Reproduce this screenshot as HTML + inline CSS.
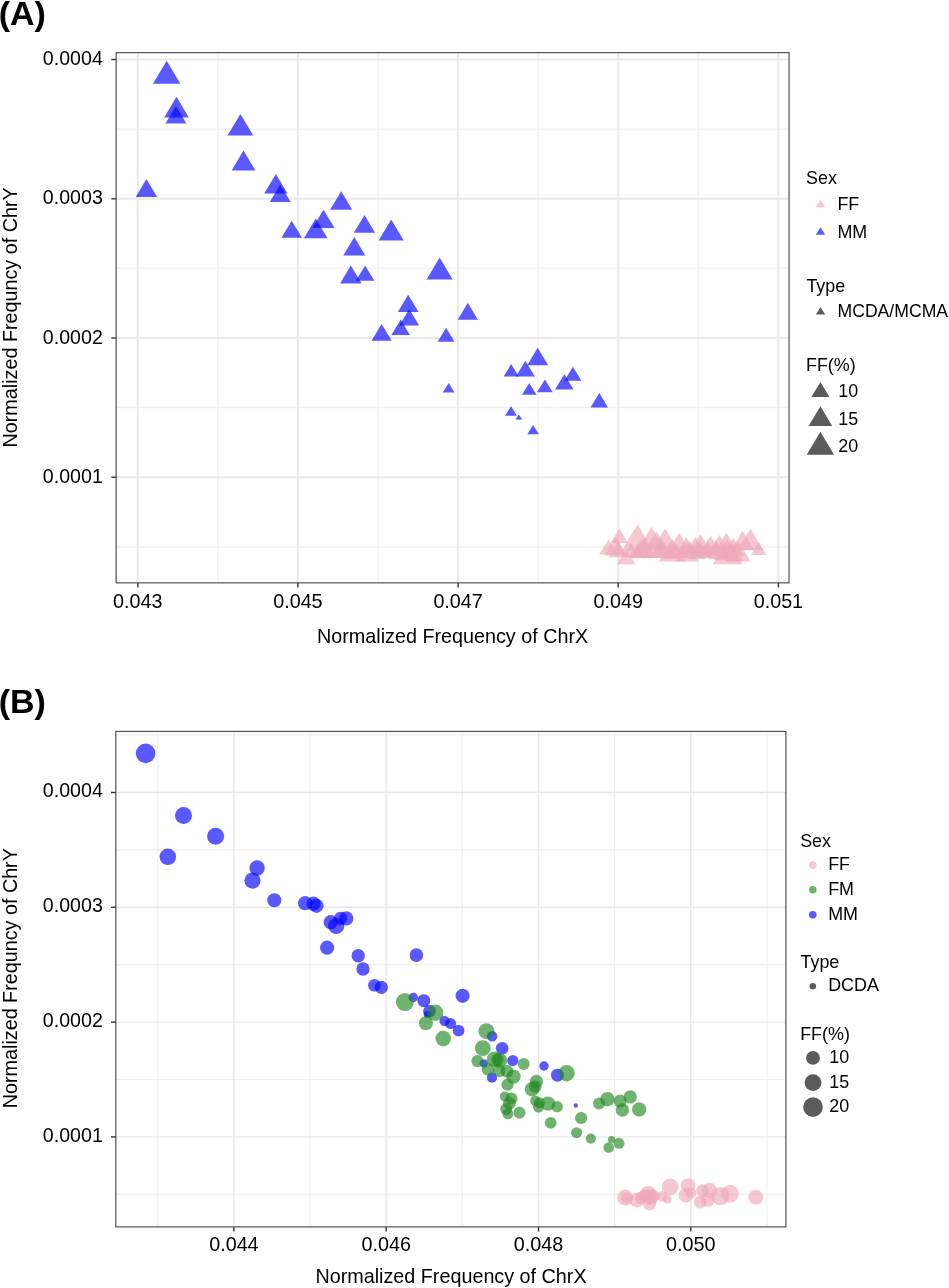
<!DOCTYPE html>
<html><head><meta charset="utf-8"><title>Figure</title>
<style>
html,body{margin:0;padding:0;background:#fff;}
body{width:949px;height:1288px;overflow:hidden;}
svg{display:block;will-change:transform;}
text{font-family:"Liberation Sans",sans-serif;fill:#000;}
.ax{font-size:19.75px;}
.tk{font-size:19.6px;}
.lg{font-size:17.9px;}
.pt{font-size:34px;font-weight:bold;}
</style></head><body>
<svg width="949" height="1288" viewBox="0 0 949 1288">
<rect width="949" height="1288" fill="#fff"/>

<g fill="none">
<path d="M217.87 52.65V582.9" stroke-width="1.5" stroke="#f2f2f2"/>
<path d="M378.01 52.65V582.9" stroke-width="1.5" stroke="#f2f2f2"/>
<path d="M538.15 52.65V582.9" stroke-width="1.5" stroke="#f2f2f2"/>
<path d="M698.29 52.65V582.9" stroke-width="1.5" stroke="#f2f2f2"/>
<path d="M116.15 129.15H789.0" stroke-width="1.5" stroke="#f2f2f2"/>
<path d="M116.15 268.35H789.0" stroke-width="1.5" stroke="#f2f2f2"/>
<path d="M116.15 407.55H789.0" stroke-width="1.5" stroke="#f2f2f2"/>
<path d="M116.15 546.75H789.0" stroke-width="1.5" stroke="#f2f2f2"/>
<path d="M137.80 52.65V582.9" stroke-width="2.0" stroke="#e9e9e9"/>
<path d="M297.94 52.65V582.9" stroke-width="2.0" stroke="#e9e9e9"/>
<path d="M458.08 52.65V582.9" stroke-width="2.0" stroke="#e9e9e9"/>
<path d="M618.22 52.65V582.9" stroke-width="2.0" stroke="#e9e9e9"/>
<path d="M778.36 52.65V582.9" stroke-width="2.0" stroke="#e9e9e9"/>
<path d="M116.15 59.55H789.0" stroke-width="2.0" stroke="#e9e9e9"/>
<path d="M116.15 198.75H789.0" stroke-width="2.0" stroke="#e9e9e9"/>
<path d="M116.15 337.95H789.0" stroke-width="2.0" stroke="#e9e9e9"/>
<path d="M116.15 477.15H789.0" stroke-width="2.0" stroke="#e9e9e9"/>
</g>
<g>
<path d="M599.1 554.8L617.7 554.8L608.4 539.4Z" fill="#eea9b8" fill-opacity="0.65"/>
<path d="M610.7 542.9L628.1 542.9L619.4 528.5Z" fill="#eea9b8" fill-opacity="0.65"/>
<path d="M604.2 555.6L627.0 555.6L615.6 536.6Z" fill="#eea9b8" fill-opacity="0.65"/>
<path d="M608.8 557.5L628.0 557.5L618.4 541.6Z" fill="#eea9b8" fill-opacity="0.65"/>
<path d="M616.7 564.3L635.3 564.3L626.0 548.9Z" fill="#eea9b8" fill-opacity="0.65"/>
<path d="M621.8 550.8L653.2 550.8L637.5 524.3Z" fill="#eea9b8" fill-opacity="0.65"/>
<path d="M638.8 548.0L664.0 548.0L651.4 526.8Z" fill="#eea9b8" fill-opacity="0.65"/>
<path d="M645.2 550.0L667.6 550.0L656.4 531.3Z" fill="#eea9b8" fill-opacity="0.65"/>
<path d="M652.3 550.0L677.9 550.0L665.1 528.5Z" fill="#eea9b8" fill-opacity="0.65"/>
<path d="M667.6 552.0L690.6 552.0L679.1 532.7Z" fill="#eea9b8" fill-opacity="0.65"/>
<path d="M675.4 555.0L697.2 555.0L686.3 536.9Z" fill="#eea9b8" fill-opacity="0.65"/>
<path d="M684.6 555.0L706.4 555.0L695.5 536.9Z" fill="#eea9b8" fill-opacity="0.65"/>
<path d="M689.0 553.0L711.8 553.0L700.4 534.0Z" fill="#eea9b8" fill-opacity="0.65"/>
<path d="M699.4 554.0L721.6 554.0L710.5 535.5Z" fill="#eea9b8" fill-opacity="0.65"/>
<path d="M707.9 554.0L730.7 554.0L719.3 535.0Z" fill="#eea9b8" fill-opacity="0.65"/>
<path d="M714.1 553.0L738.7 553.0L726.4 532.4Z" fill="#eea9b8" fill-opacity="0.65"/>
<path d="M722.2 556.0L744.2 556.0L733.2 537.7Z" fill="#eea9b8" fill-opacity="0.65"/>
<path d="M731.0 550.0L754.0 550.0L742.5 530.8Z" fill="#eea9b8" fill-opacity="0.65"/>
<path d="M737.4 550.3L763.4 550.3L750.4 528.4Z" fill="#eea9b8" fill-opacity="0.65"/>
<path d="M751.0 555.0L766.6 555.0L758.8 542.2Z" fill="#eea9b8" fill-opacity="0.65"/>
<path d="M630.4 558.2L651.8 558.2L641.1 540.3Z" fill="#eea9b8" fill-opacity="0.65"/>
<path d="M658.7 561.4L685.5 561.4L672.1 538.9Z" fill="#eea9b8" fill-opacity="0.65"/>
<path d="M675.5 561.4L699.3 561.4L687.4 541.5Z" fill="#eea9b8" fill-opacity="0.65"/>
<path d="M689.1 558.2L710.9 558.2L700.0 540.0Z" fill="#eea9b8" fill-opacity="0.65"/>
<path d="M712.7 564.3L742.5 564.3L727.6 539.2Z" fill="#eea9b8" fill-opacity="0.65"/>
<path d="M725.6 561.4L750.4 561.4L738.0 540.6Z" fill="#eea9b8" fill-opacity="0.65"/>
<path d="M622.5 557.0L639.5 557.0L631.0 543.0Z" fill="#eea9b8" fill-opacity="0.65"/>
<path d="M628.5 558.0L645.5 558.0L637.0 544.0Z" fill="#eea9b8" fill-opacity="0.65"/>
<path d="M636.9 557.0L655.1 557.0L646.0 542.0Z" fill="#eea9b8" fill-opacity="0.65"/>
<path d="M642.9 558.0L661.1 558.0L652.0 543.0Z" fill="#eea9b8" fill-opacity="0.65"/>
<path d="M649.5 558.0L666.5 558.0L658.0 544.0Z" fill="#eea9b8" fill-opacity="0.65"/>
<path d="M654.9 557.0L673.1 557.0L664.0 542.0Z" fill="#eea9b8" fill-opacity="0.65"/>
<path d="M661.5 559.0L678.5 559.0L670.0 545.0Z" fill="#eea9b8" fill-opacity="0.65"/>
<path d="M666.9 558.0L685.1 558.0L676.0 543.0Z" fill="#eea9b8" fill-opacity="0.65"/>
<path d="M674.1 558.0L689.9 558.0L682.0 545.0Z" fill="#eea9b8" fill-opacity="0.65"/>
<path d="M683.5 558.0L700.5 558.0L692.0 544.0Z" fill="#eea9b8" fill-opacity="0.65"/>
<path d="M688.5 559.0L705.5 559.0L697.0 545.0Z" fill="#eea9b8" fill-opacity="0.65"/>
<path d="M697.1 557.0L712.9 557.0L705.0 544.0Z" fill="#eea9b8" fill-opacity="0.65"/>
<path d="M704.1 558.0L719.9 558.0L712.0 545.0Z" fill="#eea9b8" fill-opacity="0.65"/>
<path d="M708.9 559.0L727.1 559.0L718.0 544.0Z" fill="#eea9b8" fill-opacity="0.65"/>
<path d="M713.9 560.0L732.1 560.0L723.0 545.0Z" fill="#eea9b8" fill-opacity="0.65"/>
<path d="M721.5 558.0L738.5 558.0L730.0 544.0Z" fill="#eea9b8" fill-opacity="0.65"/>
<path d="M724.9 561.0L743.1 561.0L734.0 546.0Z" fill="#eea9b8" fill-opacity="0.65"/>
<path d="M633.9 553.0L652.1 553.0L643.0 538.0Z" fill="#eea9b8" fill-opacity="0.65"/>
<path d="M651.9 554.0L670.1 554.0L661.0 539.0Z" fill="#eea9b8" fill-opacity="0.65"/>
<path d="M680.9 556.0L699.1 556.0L690.0 541.0Z" fill="#eea9b8" fill-opacity="0.65"/>
<path d="M698.9 556.0L717.1 556.0L708.0 541.0Z" fill="#eea9b8" fill-opacity="0.65"/>
<path d="M706.9 555.0L725.1 555.0L716.0 540.0Z" fill="#eea9b8" fill-opacity="0.65"/>
<path d="M153.0 83.7L180.4 83.7L166.7 60.7Z" fill="#0000ff" fill-opacity="0.65"/>
<path d="M164.2 117.4L188.8 117.4L176.5 96.8Z" fill="#0000ff" fill-opacity="0.65"/>
<path d="M165.4 123.5L186.4 123.5L175.9 106.0Z" fill="#0000ff" fill-opacity="0.65"/>
<path d="M227.5 135.6L253.3 135.6L240.4 113.9Z" fill="#0000ff" fill-opacity="0.65"/>
<path d="M231.6 170.5L255.4 170.5L243.5 150.6Z" fill="#0000ff" fill-opacity="0.65"/>
<path d="M264.2 193.5L287.5 193.5L275.9 174.0Z" fill="#0000ff" fill-opacity="0.65"/>
<path d="M269.7 202.1L290.7 202.1L280.2 184.6Z" fill="#0000ff" fill-opacity="0.65"/>
<path d="M135.7 197.0L157.2 197.0L146.4 179.1Z" fill="#0000ff" fill-opacity="0.65"/>
<path d="M330.1 209.7L352.2 209.7L341.2 191.3Z" fill="#0000ff" fill-opacity="0.65"/>
<path d="M312.4 228.1L334.6 228.1L323.5 209.7Z" fill="#0000ff" fill-opacity="0.65"/>
<path d="M303.9 238.3L327.5 238.3L315.7 218.6Z" fill="#0000ff" fill-opacity="0.65"/>
<path d="M281.4 237.8L302.0 237.8L291.7 220.7Z" fill="#0000ff" fill-opacity="0.65"/>
<path d="M353.9 232.7L375.1 232.7L364.5 214.9Z" fill="#0000ff" fill-opacity="0.65"/>
<path d="M378.6 240.5L403.8 240.5L391.2 219.5Z" fill="#0000ff" fill-opacity="0.65"/>
<path d="M343.3 255.5L365.3 255.5L354.3 237.1Z" fill="#0000ff" fill-opacity="0.65"/>
<path d="M340.1 283.5L361.6 283.5L350.8 265.6Z" fill="#0000ff" fill-opacity="0.65"/>
<path d="M355.9 280.8L374.4 280.8L365.1 265.5Z" fill="#0000ff" fill-opacity="0.65"/>
<path d="M426.6 279.5L452.7 279.5L439.6 257.6Z" fill="#0000ff" fill-opacity="0.65"/>
<path d="M397.8 311.9L418.6 311.9L408.2 294.7Z" fill="#0000ff" fill-opacity="0.65"/>
<path d="M457.7 319.7L477.9 319.7L467.8 302.8Z" fill="#0000ff" fill-opacity="0.65"/>
<path d="M399.3 325.5L419.1 325.5L409.2 309.1Z" fill="#0000ff" fill-opacity="0.65"/>
<path d="M391.4 334.9L409.9 334.9L400.7 319.6Z" fill="#0000ff" fill-opacity="0.65"/>
<path d="M371.5 340.7L391.7 340.7L381.6 323.9Z" fill="#0000ff" fill-opacity="0.65"/>
<path d="M437.7 341.7L454.5 341.7L446.1 327.8Z" fill="#0000ff" fill-opacity="0.65"/>
<path d="M442.8 392.5L454.6 392.5L448.7 382.9Z" fill="#0000ff" fill-opacity="0.65"/>
<path d="M527.2 365.2L548.2 365.2L537.7 347.7Z" fill="#0000ff" fill-opacity="0.65"/>
<path d="M515.9 376.6L534.9 376.6L525.4 360.8Z" fill="#0000ff" fill-opacity="0.65"/>
<path d="M503.7 376.4L518.7 376.4L511.2 364.1Z" fill="#0000ff" fill-opacity="0.65"/>
<path d="M564.4 380.8L581.4 380.8L572.9 366.8Z" fill="#0000ff" fill-opacity="0.65"/>
<path d="M555.0 389.5L573.5 389.5L564.3 374.2Z" fill="#0000ff" fill-opacity="0.65"/>
<path d="M537.0 392.3L552.8 392.3L544.9 379.4Z" fill="#0000ff" fill-opacity="0.65"/>
<path d="M522.0 394.8L536.5 394.8L529.2 382.9Z" fill="#0000ff" fill-opacity="0.65"/>
<path d="M505.1 415.8L517.0 415.8L511.0 406.2Z" fill="#0000ff" fill-opacity="0.65"/>
<path d="M515.4 419.4L522.2 419.4L518.8 414.2Z" fill="#0000ff" fill-opacity="0.65"/>
<path d="M527.3 434.3L538.9 434.3L533.1 424.9Z" fill="#0000ff" fill-opacity="0.65"/>
<path d="M590.5 407.4L608.0 407.4L599.3 392.9Z" fill="#0000ff" fill-opacity="0.65"/>
</g>
<rect x="116.15" y="52.65" width="672.9" height="530.2" fill="none" stroke="#4a4a4a" stroke-width="1.15"/>
<g stroke="#333" stroke-width="1.4">
<path d="M137.8 582.9v4.6"/>
<path d="M297.9 582.9v4.6"/>
<path d="M458.1 582.9v4.6"/>
<path d="M618.2 582.9v4.6"/>
<path d="M778.4 582.9v4.6"/>
<path d="M116.15 59.5h-4.8"/>
<path d="M116.15 198.8h-4.8"/>
<path d="M116.15 338.0h-4.8"/>
<path d="M116.15 477.2h-4.8"/>
</g>
<text class="pt" x="-1.3" y="24.5">(A)</text>
<text class="tk" x="102.8" y="65.1" text-anchor="end">0.0004</text>
<text class="tk" x="102.8" y="204.4" text-anchor="end">0.0003</text>
<text class="tk" x="102.8" y="343.6" text-anchor="end">0.0002</text>
<text class="tk" x="102.8" y="482.8" text-anchor="end">0.0001</text>
<text class="ax" x="137.8" y="607.8" text-anchor="middle">0.043</text>
<text class="ax" x="297.9" y="607.8" text-anchor="middle">0.045</text>
<text class="ax" x="458.1" y="607.8" text-anchor="middle">0.047</text>
<text class="ax" x="618.2" y="607.8" text-anchor="middle">0.049</text>
<text class="ax" x="778.4" y="607.8" text-anchor="middle">0.051</text>
<text class="ax" x="452.6" y="643.1" text-anchor="middle">Normalized Frequency of ChrX</text>
<text class="ax" transform="translate(17,317.4) rotate(-90)" text-anchor="middle">Normalized Frequncy of ChrY</text>
<text class="lg" x="806" y="184.1">Sex</text>
<path d="M815.8 207.2L825.2 207.2L820.5 199.7Z" fill="#eea9b8" fill-opacity="0.65"/>
<text class="lg" x="837.4" y="209.8">FF</text>
<path d="M815.8 234.8L825.2 234.8L820.5 227.3Z" fill="#0000ff" fill-opacity="0.65"/>
<text class="lg" x="837.4" y="237.7">MM</text>
<text class="lg" x="806.4" y="291.5">Type</text>
<path d="M815.8 314.6L825.2 314.6L820.5 307.1Z" fill="#4d4d4d" fill-opacity="0.92"/>
<text class="lg" style="font-size:17.62px" x="837.5" y="317.1">MCDA/MCMA</text>
<text class="lg" x="806" y="371">FF(%)</text>
<path d="M811.3 397.0L829.5 397.0L820.4 381.9Z" fill="#4d4d4d" fill-opacity="0.92"/>
<text class="lg" x="838.2" y="396.7">10</text>
<path d="M808.6 426.0L832.2 426.0L820.4 406.2Z" fill="#4d4d4d" fill-opacity="0.92"/>
<text class="lg" x="838.2" y="424.7">15</text>
<path d="M806.7 454.8L834.1 454.8L820.4 431.7Z" fill="#4d4d4d" fill-opacity="0.92"/>
<text class="lg" x="838.2" y="452">20</text>
<g fill="none">
<path d="M157.75 731.4V1226.9" stroke-width="1.2" stroke="#f0f0f0"/>
<path d="M310.05 731.4V1226.9" stroke-width="1.2" stroke="#f0f0f0"/>
<path d="M462.35 731.4V1226.9" stroke-width="1.2" stroke="#f0f0f0"/>
<path d="M614.65 731.4V1226.9" stroke-width="1.2" stroke="#f0f0f0"/>
<path d="M766.95 731.4V1226.9" stroke-width="1.2" stroke="#f0f0f0"/>
<path d="M115.8 735.10H785.9" stroke-width="1.2" stroke="#f0f0f0"/>
<path d="M115.8 849.90H785.9" stroke-width="1.2" stroke="#f0f0f0"/>
<path d="M115.8 964.70H785.9" stroke-width="1.2" stroke="#f0f0f0"/>
<path d="M115.8 1079.50H785.9" stroke-width="1.2" stroke="#f0f0f0"/>
<path d="M115.8 1194.30H785.9" stroke-width="1.2" stroke="#f0f0f0"/>
<path d="M233.90 731.4V1226.9" stroke-width="1.4" stroke="#e7e7e7"/>
<path d="M386.20 731.4V1226.9" stroke-width="1.4" stroke="#e7e7e7"/>
<path d="M538.50 731.4V1226.9" stroke-width="1.4" stroke="#e7e7e7"/>
<path d="M690.80 731.4V1226.9" stroke-width="1.4" stroke="#e7e7e7"/>
<path d="M115.8 792.50H785.9" stroke-width="1.4" stroke="#e7e7e7"/>
<path d="M115.8 907.30H785.9" stroke-width="1.4" stroke="#e7e7e7"/>
<path d="M115.8 1022.10H785.9" stroke-width="1.4" stroke="#e7e7e7"/>
<path d="M115.8 1136.90H785.9" stroke-width="1.4" stroke="#e7e7e7"/>
</g>
<g>
<circle cx="625.2" cy="1197.5" r="8" fill="#eea9b8" fill-opacity="0.65"/>
<circle cx="626.5" cy="1198" r="5.5" fill="#eea9b8" fill-opacity="0.65"/>
<circle cx="637" cy="1200.1" r="7.4" fill="#eea9b8" fill-opacity="0.65"/>
<circle cx="641.2" cy="1197.9" r="6.5" fill="#eea9b8" fill-opacity="0.65"/>
<circle cx="645.4" cy="1196.2" r="7" fill="#eea9b8" fill-opacity="0.65"/>
<circle cx="648.4" cy="1194.5" r="8.5" fill="#eea9b8" fill-opacity="0.65"/>
<circle cx="650.5" cy="1197" r="8" fill="#eea9b8" fill-opacity="0.65"/>
<circle cx="649.6" cy="1203.8" r="6.7" fill="#eea9b8" fill-opacity="0.65"/>
<circle cx="653" cy="1196.2" r="6.5" fill="#eea9b8" fill-opacity="0.65"/>
<circle cx="662.3" cy="1196.2" r="5.5" fill="#eea9b8" fill-opacity="0.65"/>
<circle cx="667.3" cy="1199.2" r="4.4" fill="#eea9b8" fill-opacity="0.65"/>
<circle cx="670.2" cy="1186.9" r="8.4" fill="#eea9b8" fill-opacity="0.65"/>
<circle cx="688.1" cy="1185.6" r="7.4" fill="#eea9b8" fill-opacity="0.65"/>
<circle cx="685.9" cy="1195.3" r="7.2" fill="#eea9b8" fill-opacity="0.65"/>
<circle cx="690.9" cy="1192.8" r="5.5" fill="#eea9b8" fill-opacity="0.65"/>
<circle cx="702.4" cy="1190.6" r="6.3" fill="#eea9b8" fill-opacity="0.65"/>
<circle cx="709.5" cy="1190.3" r="7.6" fill="#eea9b8" fill-opacity="0.65"/>
<circle cx="700.2" cy="1202.1" r="6.3" fill="#eea9b8" fill-opacity="0.65"/>
<circle cx="707.8" cy="1199.6" r="7.2" fill="#eea9b8" fill-opacity="0.65"/>
<circle cx="720.4" cy="1196.2" r="9.1" fill="#eea9b8" fill-opacity="0.65"/>
<circle cx="730" cy="1193.7" r="8.9" fill="#eea9b8" fill-opacity="0.65"/>
<circle cx="755.8" cy="1197.2" r="7.4" fill="#eea9b8" fill-opacity="0.65"/>
<circle cx="145.6" cy="753.4" r="9.8" fill="#0000ff" fill-opacity="0.65"/>
<circle cx="183.5" cy="815.6" r="8.5" fill="#0000ff" fill-opacity="0.65"/>
<circle cx="215.6" cy="836.3" r="8.5" fill="#0000ff" fill-opacity="0.65"/>
<circle cx="167.8" cy="856.8" r="8.3" fill="#0000ff" fill-opacity="0.65"/>
<circle cx="257.1" cy="868" r="7.7" fill="#0000ff" fill-opacity="0.65"/>
<circle cx="252.5" cy="880.6" r="8.1" fill="#0000ff" fill-opacity="0.65"/>
<circle cx="274.3" cy="900.2" r="7" fill="#0000ff" fill-opacity="0.65"/>
<circle cx="305.1" cy="903.2" r="7.1" fill="#0000ff" fill-opacity="0.65"/>
<circle cx="313.5" cy="903.7" r="7.1" fill="#0000ff" fill-opacity="0.65"/>
<circle cx="316.5" cy="905.8" r="7.1" fill="#0000ff" fill-opacity="0.65"/>
<circle cx="330.7" cy="922.2" r="7.1" fill="#0000ff" fill-opacity="0.65"/>
<circle cx="336.2" cy="926" r="8.1" fill="#0000ff" fill-opacity="0.65"/>
<circle cx="340.5" cy="918.4" r="6.6" fill="#0000ff" fill-opacity="0.65"/>
<circle cx="346.3" cy="918.4" r="7.1" fill="#0000ff" fill-opacity="0.65"/>
<circle cx="327.1" cy="947.7" r="7.1" fill="#0000ff" fill-opacity="0.65"/>
<circle cx="358.2" cy="955.8" r="6.7" fill="#0000ff" fill-opacity="0.65"/>
<circle cx="363" cy="969" r="6.7" fill="#0000ff" fill-opacity="0.65"/>
<circle cx="374.4" cy="985.2" r="6.3" fill="#0000ff" fill-opacity="0.65"/>
<circle cx="381.4" cy="987.4" r="6.6" fill="#0000ff" fill-opacity="0.65"/>
<circle cx="416.4" cy="955.1" r="6.8" fill="#0000ff" fill-opacity="0.65"/>
<circle cx="462.6" cy="995.8" r="7.1" fill="#0000ff" fill-opacity="0.65"/>
<circle cx="413.3" cy="997.5" r="4.7" fill="#0000ff" fill-opacity="0.65"/>
<circle cx="423.8" cy="1000.7" r="6.5" fill="#0000ff" fill-opacity="0.65"/>
<circle cx="429.5" cy="1011.2" r="6.3" fill="#0000ff" fill-opacity="0.65"/>
<circle cx="427.4" cy="1014.4" r="3.7" fill="#0000ff" fill-opacity="0.65"/>
<circle cx="444.5" cy="1021.1" r="5.1" fill="#0000ff" fill-opacity="0.65"/>
<circle cx="450.6" cy="1023.6" r="5.5" fill="#0000ff" fill-opacity="0.65"/>
<circle cx="458.6" cy="1030.6" r="5.9" fill="#0000ff" fill-opacity="0.65"/>
<circle cx="492.1" cy="1036.3" r="5.3" fill="#0000ff" fill-opacity="0.65"/>
<circle cx="502.2" cy="1048.2" r="6.3" fill="#0000ff" fill-opacity="0.65"/>
<circle cx="483.7" cy="1063.4" r="4.2" fill="#0000ff" fill-opacity="0.65"/>
<circle cx="512.8" cy="1060.6" r="5.6" fill="#0000ff" fill-opacity="0.65"/>
<circle cx="492" cy="1077.7" r="5.1" fill="#0000ff" fill-opacity="0.65"/>
<circle cx="544" cy="1066" r="4.7" fill="#0000ff" fill-opacity="0.65"/>
<circle cx="557.5" cy="1075.2" r="6.5" fill="#0000ff" fill-opacity="0.65"/>
<circle cx="575.8" cy="1105.5" r="2.2" fill="#0000ff" fill-opacity="0.65"/>
<circle cx="404.9" cy="1002.1" r="9" fill="#228b22" fill-opacity="0.65"/>
<circle cx="435.2" cy="1012.7" r="8.2" fill="#228b22" fill-opacity="0.65"/>
<circle cx="425.9" cy="1023.2" r="7" fill="#228b22" fill-opacity="0.65"/>
<circle cx="443.2" cy="1038.6" r="7.8" fill="#228b22" fill-opacity="0.65"/>
<circle cx="486.4" cy="1031.2" r="8" fill="#228b22" fill-opacity="0.65"/>
<circle cx="482.8" cy="1048.2" r="7.9" fill="#228b22" fill-opacity="0.65"/>
<circle cx="477.4" cy="1061.1" r="6.1" fill="#228b22" fill-opacity="0.65"/>
<circle cx="494.5" cy="1059.3" r="7.8" fill="#228b22" fill-opacity="0.65"/>
<circle cx="497.5" cy="1059.7" r="6.3" fill="#228b22" fill-opacity="0.65"/>
<circle cx="499.8" cy="1060.4" r="7.4" fill="#228b22" fill-opacity="0.65"/>
<circle cx="523.7" cy="1064" r="5.9" fill="#228b22" fill-opacity="0.65"/>
<circle cx="487.9" cy="1069.3" r="6.3" fill="#228b22" fill-opacity="0.65"/>
<circle cx="499.3" cy="1070.9" r="6.3" fill="#228b22" fill-opacity="0.65"/>
<circle cx="507" cy="1071.2" r="6.3" fill="#228b22" fill-opacity="0.65"/>
<circle cx="513.5" cy="1076.6" r="7.2" fill="#228b22" fill-opacity="0.65"/>
<circle cx="507.5" cy="1084.7" r="6.1" fill="#228b22" fill-opacity="0.65"/>
<circle cx="536.4" cy="1081.3" r="6.6" fill="#228b22" fill-opacity="0.65"/>
<circle cx="532" cy="1089.2" r="7.3" fill="#228b22" fill-opacity="0.65"/>
<circle cx="535.3" cy="1086.6" r="6.3" fill="#228b22" fill-opacity="0.65"/>
<circle cx="566.6" cy="1073.3" r="8.2" fill="#228b22" fill-opacity="0.65"/>
<circle cx="504.8" cy="1096.5" r="5" fill="#228b22" fill-opacity="0.65"/>
<circle cx="511.5" cy="1098.4" r="6" fill="#228b22" fill-opacity="0.65"/>
<circle cx="509.4" cy="1103.2" r="6.3" fill="#228b22" fill-opacity="0.65"/>
<circle cx="506.2" cy="1109.1" r="6" fill="#228b22" fill-opacity="0.65"/>
<circle cx="507.9" cy="1113.8" r="5.5" fill="#228b22" fill-opacity="0.65"/>
<circle cx="519.5" cy="1112.7" r="6" fill="#228b22" fill-opacity="0.65"/>
<circle cx="535.3" cy="1100.7" r="5.2" fill="#228b22" fill-opacity="0.65"/>
<circle cx="539.5" cy="1102.8" r="5.5" fill="#228b22" fill-opacity="0.65"/>
<circle cx="538.5" cy="1107" r="5.5" fill="#228b22" fill-opacity="0.65"/>
<circle cx="548" cy="1103.6" r="7.2" fill="#228b22" fill-opacity="0.65"/>
<circle cx="557.2" cy="1106.6" r="5.7" fill="#228b22" fill-opacity="0.65"/>
<circle cx="550.7" cy="1122.8" r="5.9" fill="#228b22" fill-opacity="0.65"/>
<circle cx="581.1" cy="1118" r="6.1" fill="#228b22" fill-opacity="0.65"/>
<circle cx="576.6" cy="1132.7" r="5.5" fill="#228b22" fill-opacity="0.65"/>
<circle cx="590.8" cy="1138.6" r="5.1" fill="#228b22" fill-opacity="0.65"/>
<circle cx="599" cy="1103.6" r="6" fill="#228b22" fill-opacity="0.65"/>
<circle cx="607.4" cy="1099.2" r="7.2" fill="#228b22" fill-opacity="0.65"/>
<circle cx="620.1" cy="1101.1" r="6.5" fill="#228b22" fill-opacity="0.65"/>
<circle cx="630.2" cy="1096.9" r="6.7" fill="#228b22" fill-opacity="0.65"/>
<circle cx="622.4" cy="1110" r="6.7" fill="#228b22" fill-opacity="0.65"/>
<circle cx="639.2" cy="1109.5" r="7.2" fill="#228b22" fill-opacity="0.65"/>
<circle cx="611.6" cy="1139.5" r="3.6" fill="#228b22" fill-opacity="0.65"/>
<circle cx="619" cy="1143.3" r="5.5" fill="#228b22" fill-opacity="0.65"/>
<circle cx="608.7" cy="1147.5" r="5.3" fill="#228b22" fill-opacity="0.65"/>
</g>
<rect x="115.8" y="731.4" width="670.1" height="495.5" fill="none" stroke="#4a4a4a" stroke-width="1.15"/>
<g stroke="#333" stroke-width="1.4">
<path d="M233.9 1226.9v4.6"/>
<path d="M386.2 1226.9v4.6"/>
<path d="M538.5 1226.9v4.6"/>
<path d="M690.8 1226.9v4.6"/>
<path d="M115.8 792.5h-4.8"/>
<path d="M115.8 907.3h-4.8"/>
<path d="M115.8 1022.1h-4.8"/>
<path d="M115.8 1136.9h-4.8"/>
</g>
<text class="pt" x="-1.3" y="712.7">(B)</text>
<text class="tk" x="102.8" y="797.4" text-anchor="end">0.0004</text>
<text class="tk" x="102.8" y="912.2" text-anchor="end">0.0003</text>
<text class="tk" x="102.8" y="1027.0" text-anchor="end">0.0002</text>
<text class="tk" x="102.8" y="1141.8" text-anchor="end">0.0001</text>
<text class="ax" x="233.9" y="1250.6" text-anchor="middle">0.044</text>
<text class="ax" x="386.2" y="1250.6" text-anchor="middle">0.046</text>
<text class="ax" x="538.5" y="1250.6" text-anchor="middle">0.048</text>
<text class="ax" x="690.8" y="1250.6" text-anchor="middle">0.050</text>
<text class="ax" x="451" y="1283.4" text-anchor="middle">Normalized Frequency of ChrX</text>
<text class="ax" transform="translate(17,978.2) rotate(-90)" text-anchor="middle">Normalized Frequncy of ChrY</text>
<text class="lg" x="800.2" y="846.8">Sex</text>
<circle cx="812.8" cy="865.1" r="3.8" fill="#eea9b8" fill-opacity="0.65"/>
<text class="lg" x="828.2" y="869.6">FF</text>
<circle cx="812.8" cy="889.8" r="3.8" fill="#228b22" fill-opacity="0.65"/>
<text class="lg" x="828.2" y="894.6">FM</text>
<circle cx="812.8" cy="914.7" r="3.8" fill="#0000ff" fill-opacity="0.65"/>
<text class="lg" x="828.2" y="919.5">MM</text>
<text class="lg" x="800.5" y="968">Type</text>
<circle cx="812.8" cy="986.2" r="3.3" fill="#4d4d4d" fill-opacity="0.92"/>
<text class="lg" x="828.2" y="990.7">DCDA</text>
<text class="lg" x="800.2" y="1039.7">FF(%)</text>
<circle cx="813" cy="1057.9" r="6.9" fill="#4d4d4d" fill-opacity="0.92"/>
<text class="lg" x="829.2" y="1062.8">10</text>
<circle cx="813" cy="1082.6" r="8.4" fill="#4d4d4d" fill-opacity="0.92"/>
<text class="lg" x="829.2" y="1087.7">15</text>
<circle cx="813" cy="1107.1" r="9.8" fill="#4d4d4d" fill-opacity="0.92"/>
<text class="lg" x="829.2" y="1112.4">20</text>
</svg></body></html>
